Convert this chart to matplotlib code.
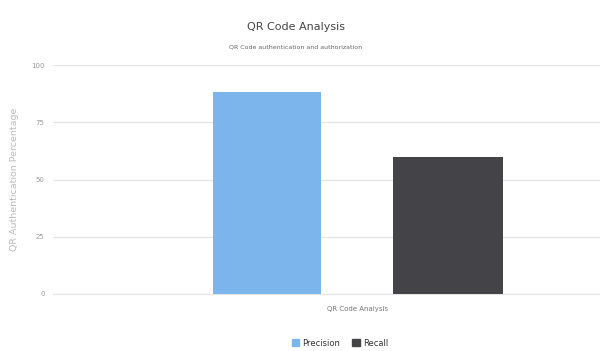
import matplotlib
matplotlib.use("Agg")
import matplotlib.pyplot as plt
from matplotlib.patches import Patch

categories = ["QR Code Analysis"]
series_names = ["Precision", "Recall"]
precision = [88]
recall = [60]
yticks = [0, 25, 50, 75, 100]
colors = ["#7cb5ec", "#434348"]

plt.rcParams['font.family'] = ['DejaVu Sans']

fig = plt.figure(figsize=(6.0, 3.51), dpi=100)
W, H = 600, 351
left, right, top, bottom = 53, 600, 65, 294
ax = fig.add_axes([left / W, (H - bottom) / H, (right - left) / W, (bottom - top) / H])

x0 = 0
ax.bar([x0 - 0.165], precision, width=0.198, color=colors[0], zorder=3)
ax.bar([x0 + 0.166], recall, width=0.201, color=colors[1], zorder=3)

ax.set_xlim(-0.556, 0.444)
ax.set_ylim(0, 100)
ax.set_yticks(yticks)
ax.set_yticklabels([str(t) for t in yticks], fontsize=5, color="#999999")
ax.set_xticks([x0])
ax.set_xticklabels(categories, fontsize=5, color="#777777")
ax.tick_params(axis='y', length=0, pad=6)
ax.tick_params(axis='x', length=0, pad=9)
ax.grid(axis='y', color="#e6e6e6", linewidth=1, zorder=0)
for s in ["top", "right", "left"]:
    ax.spines[s].set_visible(False)
ax.spines["bottom"].set_color("#e6e6e6")
ax.set_ylabel("QR Authentication Percentage", fontsize=6.8, color="#bbbbbb", labelpad=9)

fig.text(296 / W, 1 - 27 / H, "QR Code Analysis", ha="center", va="center",
         fontsize=8, color="#444444")
fig.text(296 / W, 1 - 47 / H, "QR Code authentication and authorization", ha="center",
         va="center", fontsize=4.5, color="#666666")

handles = [Patch(color=colors[0], label=series_names[0]),
           Patch(color=colors[1], label=series_names[1])]
fig.legend(handles=handles, loc="center", bbox_to_anchor=(340 / W, 1 - 343 / H), ncol=2,
           frameon=False, fontsize=6, handlelength=0.9, handleheight=0.9,
           handletextpad=0.4, columnspacing=1.4, labelcolor="#333333")

fig.savefig("out.png", dpi=100, facecolor="white")
